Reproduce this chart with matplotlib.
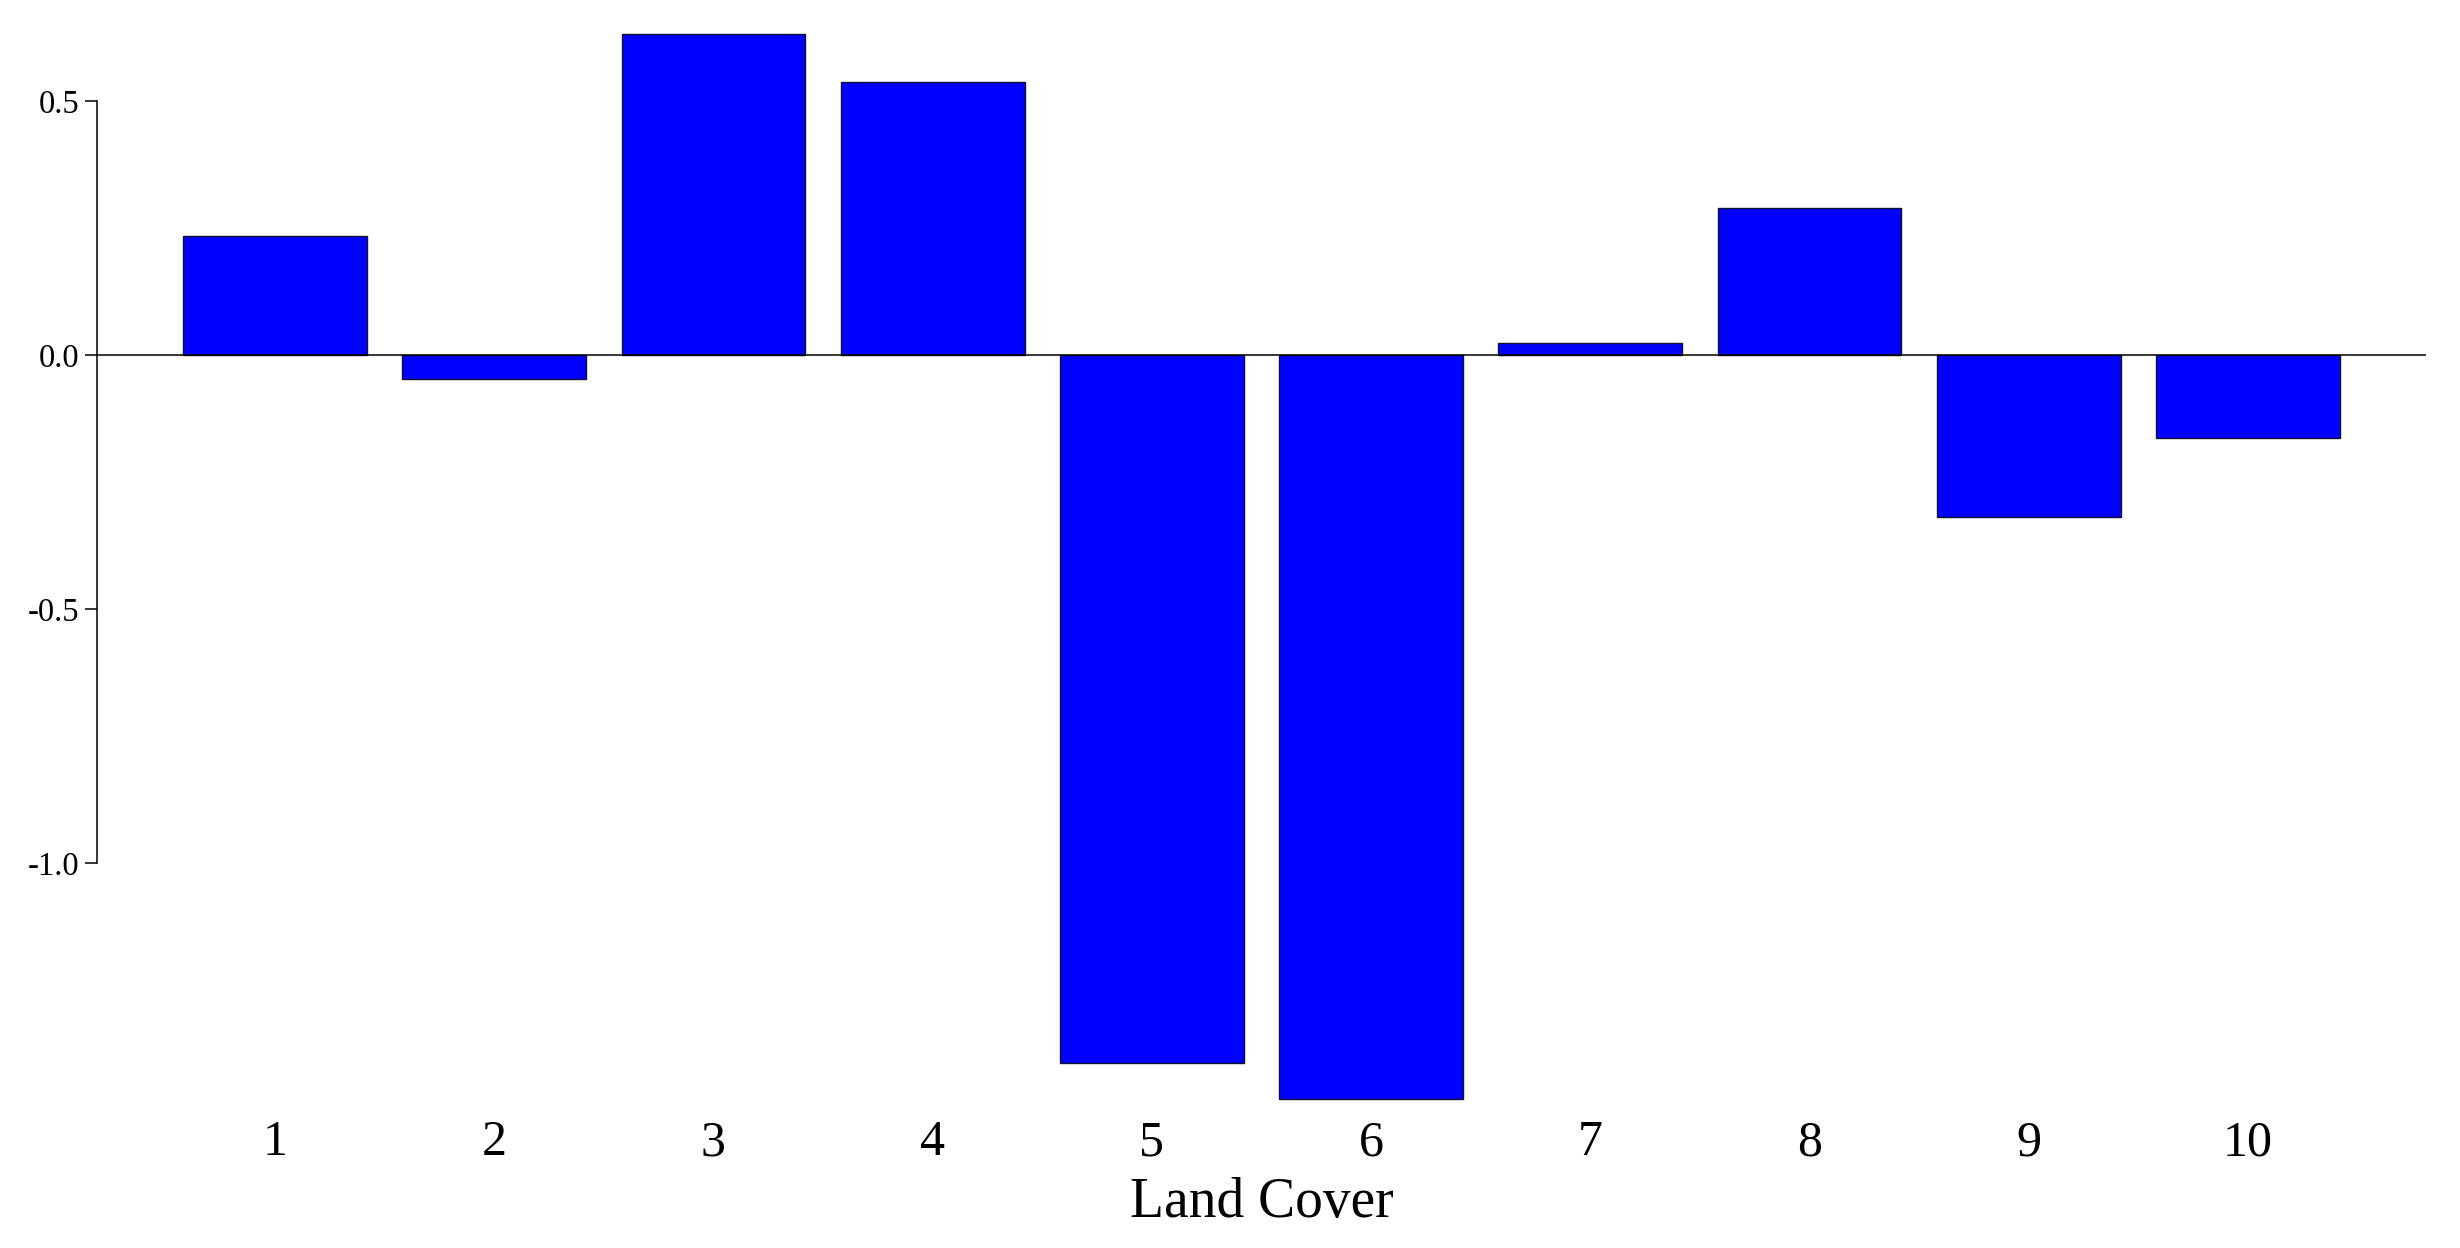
import matplotlib
matplotlib.use("Agg")
import matplotlib.pyplot as plt

categories = ["1", "2", "3", "4", "5", "6", "7", "8", "9", "10"]
values = [0.234, -0.046, 0.633, 0.537, -1.394, -1.465, 0.023, 0.290, -0.318, -0.163]
yticks = [-1.0, -0.5, 0.0, 0.5]
ytick_labels = ["-1.0", "-0.5", "0.0", "0.5"]
xlabel = "Land Cover"

plt.rcParams["font.family"] = ["Liberation Serif", "DejaVu Serif"]
plt.rcParams["axes.unicode_minus"] = False

W, H = 2460, 1248
fig = plt.figure(figsize=(W / 100, H / 100), dpi=100)
left_px, right_px = 97, 2426
top_px, bot_px = 25, 1117
ax = fig.add_axes([left_px / W, 1 - bot_px / H, (right_px - left_px) / W, (bot_px - top_px) / H])

xs = list(range(1, len(categories) + 1))
ax.bar(xs, values, width=0.838, color="#0000FF", edgecolor="#101030", linewidth=1.0, zorder=2)
ax.axhline(0, color="black", linewidth=1.1, zorder=3)

ax.set_xlim(0.188, 10.812)
ax.set_ylim(-1.5, 0.65)

ax.set_yticks(yticks)
ax.set_yticklabels(ytick_labels)
ax.set_xticks(xs)
ax.set_xticklabels(categories)

for s in ["top", "right", "bottom"]:
    ax.spines[s].set_visible(False)
ax.spines["left"].set_bounds(-1.0, 0.5)
ax.spines["left"].set_linewidth(1.1)

ax.tick_params(axis="y", length=8.6, width=1.1, labelsize=23.5, pad=4)
ax.tick_params(axis="x", length=0, labelsize=36, pad=2)
ax.set_xlabel(xlabel, fontsize=40, labelpad=8)

fig.savefig("out.png", dpi=100, facecolor="white")
